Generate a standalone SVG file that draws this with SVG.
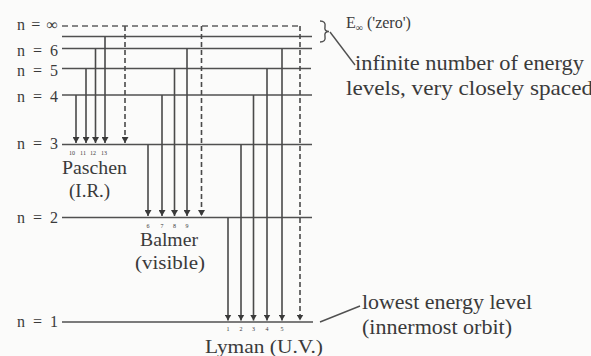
<svg xmlns="http://www.w3.org/2000/svg" width="591" height="356" viewBox="0 0 591 356">
<style>
text{font-family:"Liberation Serif","Times New Roman",serif;fill:#3a3a3a}
.lvl{stroke:#505050;stroke-width:1.6;fill:none}
.dashlvl{stroke:#606060;stroke-width:1.5;stroke-dasharray:6 4;fill:none}
.arr{stroke:#4a4a4a;stroke-width:1.6;fill:none;marker-end:url(#ah)}
.darr{stroke:#4a4a4a;stroke-width:1.6;fill:none;stroke-dasharray:5 3;marker-end:url(#ah)}
.lead{stroke:#505050;stroke-width:1.4;fill:none}
.lab{font-size:16px}
.big{font-size:21px}
.mid{font-size:19px}
.tiny{font-size:6px;text-anchor:middle}
</style>
<defs>
<marker id="ah" markerUnits="userSpaceOnUse" markerWidth="7" markerHeight="7" refX="6" refY="3.5" orient="auto">
<path d="M0,0 L6,3.5 L0,7 z" fill="#3a3a3a"/>
</marker>
</defs>
<rect x="0" y="0" width="591" height="356" fill="#fbfbfa"/>

<g id="level-inf">
<line class="dashlvl" x1="62" y1="26" x2="302" y2="26"/>
<text class="lab" x="17" y="30" textLength="41" lengthAdjust="spacing">n = ∞</text>
</g>
<g id="level-7">
<line class="lvl" x1="62" y1="36.5" x2="312" y2="36.5"/>
</g>
<g id="level-6">
<line class="lvl" x1="62" y1="48.5" x2="312" y2="48.5"/>
<text class="lab" x="17" y="56" textLength="41" lengthAdjust="spacing">n = 6</text>
</g>
<g id="level-5">
<line class="lvl" x1="62" y1="68.5" x2="311" y2="68.5"/>
<text class="lab" x="17" y="76" textLength="41" lengthAdjust="spacing">n = 5</text>
</g>
<g id="level-4">
<line class="lvl" x1="62" y1="95" x2="312" y2="95"/>
<text class="lab" x="17" y="102" textLength="41" lengthAdjust="spacing">n = 4</text>
</g>
<g id="level-3">
<line class="lvl" x1="62" y1="144.5" x2="312" y2="144.5"/>
<text class="lab" x="17" y="149" textLength="41" lengthAdjust="spacing">n = 3</text>
</g>
<g id="level-2">
<line class="lvl" x1="62" y1="217.5" x2="312" y2="217.5"/>
<text class="lab" x="17" y="223" textLength="41" lengthAdjust="spacing">n = 2</text>
</g>
<g id="level-1">
<line class="lvl" x1="62" y1="322" x2="313" y2="322"/>
<text class="lab" x="17" y="327" textLength="41" lengthAdjust="spacing">n = 1</text>
</g>

<g id="connectors">
<!-- Paschen -->
<line class="arr" x1="76" y1="95" x2="76" y2="143"/>
<line class="arr" x1="86" y1="68.5" x2="86" y2="143"/>
<line class="arr" x1="95.5" y1="48.5" x2="95.5" y2="143"/>
<line class="arr" x1="105" y1="36.5" x2="105" y2="143"/>
<line class="darr" x1="125" y1="26" x2="125" y2="143"/>
<!-- Balmer -->
<line class="arr" x1="148" y1="144.5" x2="148" y2="216"/>
<line class="arr" x1="162" y1="95" x2="162" y2="216"/>
<line class="arr" x1="174.5" y1="68.5" x2="174.5" y2="216"/>
<line class="arr" x1="187" y1="48.5" x2="187" y2="216"/>
<line class="darr" x1="201.5" y1="26" x2="201.5" y2="216"/>
<!-- Lyman -->
<line class="arr" x1="228" y1="217.5" x2="228" y2="320.5"/>
<line class="arr" x1="241" y1="144.5" x2="241" y2="320.5"/>
<line class="arr" x1="253.5" y1="95" x2="253.5" y2="320.5"/>
<line class="arr" x1="267" y1="68.5" x2="267" y2="320.5"/>
<line class="arr" x1="282" y1="48.5" x2="282" y2="320.5"/>
<line class="darr" x1="300" y1="26" x2="300" y2="320.5"/>
<!-- leaders -->
<path class="lead" d="M320,21 Q326,21 325,26.5 Q324,31.5 329,31.5 Q324,31.5 325,36.5 Q326,42 320,42"/>
<line class="lead" x1="330" y1="32" x2="355" y2="65"/>
<line class="lead" x1="320" y1="322" x2="360" y2="306"/>
</g>

<g id="series-numbers">
<text class="tiny" x="72" y="155">10</text>
<text class="tiny" x="83" y="155">11</text>
<text class="tiny" x="93" y="155">12</text>
<text class="tiny" x="104" y="155">13</text>
<text class="tiny" x="148" y="228">6</text>
<text class="tiny" x="162" y="228">7</text>
<text class="tiny" x="174.5" y="228">8</text>
<text class="tiny" x="187" y="228">9</text>
<text class="tiny" x="228" y="331">1</text>
<text class="tiny" x="241" y="331">2</text>
<text class="tiny" x="253.5" y="331">3</text>
<text class="tiny" x="267" y="331">4</text>
<text class="tiny" x="282" y="331">5</text>
</g>

<g id="paschen-label">
<text class="mid" x="62" y="174" textLength="65" lengthAdjust="spacingAndGlyphs">Paschen</text>
<text class="mid" x="69" y="197">(I.R.)</text>
</g>
<g id="balmer-label">
<text class="mid" x="140" y="246" textLength="58" lengthAdjust="spacingAndGlyphs">Balmer</text>
<text class="mid" x="135" y="269" textLength="70" lengthAdjust="spacingAndGlyphs">(visible)</text>
</g>
<g id="lyman-label">
<text class="mid" x="205" y="353" textLength="118" lengthAdjust="spacingAndGlyphs">Lyman (U.V.)</text>
</g>
<g id="einf-label">
<text class="lab" x="346" y="28">E<tspan font-size="10" dy="3">∞</tspan><tspan dy="-3"> ('zero')</tspan></text>
</g>
<g id="infinite-note">
<text class="big" x="355" y="70" textLength="229" lengthAdjust="spacingAndGlyphs">infinite number of energy</text>
<text class="big" x="346" y="95" textLength="247" lengthAdjust="spacingAndGlyphs">levels, very closely spaced</text>
</g>
<g id="lowest-note">
<text class="big" x="362" y="309" textLength="170" lengthAdjust="spacingAndGlyphs">lowest energy level</text>
<text class="big" x="362" y="334" textLength="150" lengthAdjust="spacingAndGlyphs">(innermost orbit)</text>
</g>
</svg>
